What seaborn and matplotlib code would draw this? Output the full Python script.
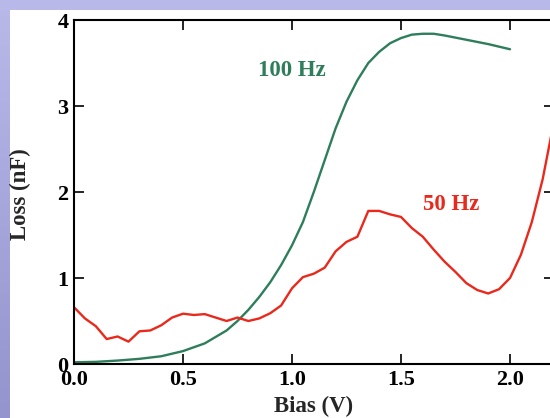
import numpy as np
import pandas as pd
import matplotlib
matplotlib.use("Agg")
import matplotlib.pyplot as plt
import seaborn as sns

# 100 Hz loss curve
bias_100 = [0.00, 0.10, 0.20, 0.30, 0.40, 0.50, 0.60, 0.70, 0.75, 0.80, 0.85,
            0.90, 0.95, 1.00, 1.05, 1.10, 1.15, 1.20, 1.25, 1.30, 1.35, 1.40,
            1.45, 1.50, 1.55, 1.60, 1.65, 1.70, 1.80, 1.90, 2.00]
loss_100 = [0.02, 0.025, 0.04, 0.06, 0.09, 0.15, 0.24, 0.39, 0.50, 0.63, 0.78,
            0.95, 1.15, 1.38, 1.65, 2.00, 2.37, 2.74, 3.05, 3.30, 3.50, 3.63,
            3.73, 3.79, 3.83, 3.84, 3.84, 3.82, 3.77, 3.72, 3.66]

# 50 Hz loss curve
bias_50 = [0.00, 0.05, 0.10, 0.15, 0.20, 0.25, 0.30, 0.35, 0.40, 0.45, 0.50,
           0.55, 0.60, 0.65, 0.70, 0.75, 0.80, 0.85, 0.90, 0.95, 1.00, 1.05,
           1.10, 1.15, 1.20, 1.25, 1.30, 1.35, 1.40, 1.45, 1.50, 1.55, 1.60,
           1.65, 1.70, 1.75, 1.80, 1.85, 1.90, 1.95, 2.00, 2.05, 2.10, 2.15,
           2.20]
loss_50 = [0.66, 0.53, 0.44, 0.29, 0.32, 0.26, 0.38, 0.39, 0.45, 0.54, 0.585,
           0.57, 0.58, 0.54, 0.50, 0.54, 0.50, 0.53, 0.59, 0.68, 0.88, 1.01,
           1.05, 1.12, 1.31, 1.42, 1.48, 1.78, 1.78, 1.74, 1.71, 1.58, 1.48,
           1.33, 1.19, 1.07, 0.94, 0.86, 0.82, 0.87, 1.00, 1.27, 1.65, 2.15,
           2.80]

x_ticks = [0.0, 0.5, 1.0, 1.5, 2.0]
x_tick_labels = ["0.0", "0.5", "1.0", "1.5", "2.0"]
y_ticks = [0, 1, 2, 3, 4]
y_tick_labels = ["0", "1", "2", "3", "4"]

GREEN = "#2e7d5b"
RED = "#e8291c"

sns.set_style("ticks")
plt.rcParams["font.family"] = ["Liberation Serif", "DejaVu Serif"]
plt.rcParams["font.weight"] = "bold"

W, H = 550, 418
fig = plt.figure(figsize=(W / 100, H / 100), dpi=100)

# lavender slide frame on the top and left edges
bg = fig.add_axes([0, 0, 1, 1], zorder=-5)
img = np.ones((H, W, 3))
top_col = np.array([185, 185, 233]) / 255
bot_col = np.array([148, 148, 206]) / 255
t = np.linspace(0, 1, H)[:, None]
grad = top_col * (1 - t) + bot_col * t
img[:, :10, :] = grad[:, None, :]
img[:10, :, :] = top_col
bg.imshow(img, aspect="auto", extent=[0, 1, 0, 1], interpolation="bilinear")
bg.axis("off")

ax = fig.add_axes([74 / W, 54 / H, 479.6 / W, 344 / H])
ax.set_facecolor("none")

df100 = pd.DataFrame({"Bias": bias_100, "Loss": loss_100})
df50 = pd.DataFrame({"Bias": bias_50, "Loss": loss_50})
sns.lineplot(data=df100, x="Bias", y="Loss", color=GREEN, linewidth=1.7, ax=ax)
sns.lineplot(data=df50, x="Bias", y="Loss", color=RED, linewidth=1.7, ax=ax)

ax.set_xlim(0, 2.2)
ax.set_ylim(0, 4)
ax.set_xticks(x_ticks)
ax.set_xticklabels(x_tick_labels)
ax.set_yticks(y_ticks)
ax.set_yticklabels(y_tick_labels)
ax.tick_params(direction="in", length=7, width=1.2, top=True, right=True,
               labelsize=16, colors="black")
ax.tick_params(axis="x", pad=4)
ax.tick_params(axis="y", pad=4)
for lbl in ax.get_xticklabels() + ax.get_yticklabels():
    lbl.set_fontweight("bold")
for sp in ax.spines.values():
    sp.set_linewidth(1.5)
    sp.set_color("black")

ax.set_xlabel("Bias (V)", fontsize=16.5, fontweight="bold")
ax.set_ylabel("Loss (nF)", fontsize=16.5, fontweight="bold")
ax.xaxis.set_label_coords(0.5, -0.092)
ax.yaxis.set_label_coords(-0.09, 0.494)

ax.text(0.844, 3.41, "100 Hz", color=GREEN, fontsize=16.5, fontweight="bold",
        ha="left", va="center")
ax.text(1.60, 1.86, "50 Hz", color=RED, fontsize=16.5, fontweight="bold",
        ha="left", va="center")

fig.savefig("out.png", dpi=100)
